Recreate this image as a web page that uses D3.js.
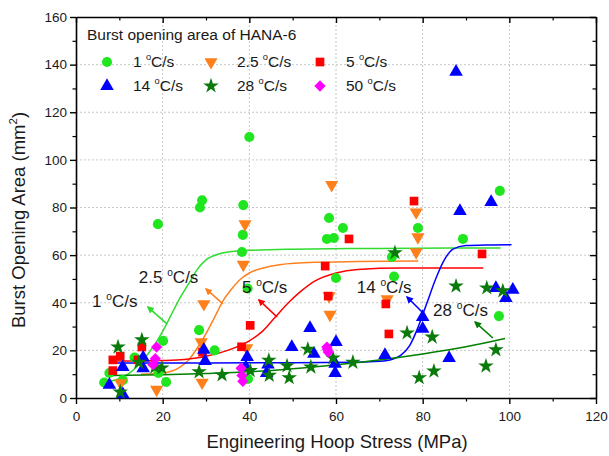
<!DOCTYPE html>
<html>
<head>
<meta charset="utf-8">
<script src="https://cdn.jsdelivr.net/npm/d3@7"></script>
<style>
body { margin: 0; background: #fff; }
text { font-family: "Liberation Sans", Arial, sans-serif; fill: #1a1a1a; }
</style>
</head>
<body>
<div id="chart"></div>
<script>
// measured points, [hoop stress (MPa), burst opening area (mm2)]
let rate1 = [[6.5,6.5],[7.7,10.5],[10.8,7.5],[13.5,17],[19,10.5],[18.9,73],[20.1,24],[20.8,6.7],
    [28.6,80],[29.1,83],[28.4,28.5],[32,20],[38.6,81],[38.5,68.5],[38.3,61.3],[40,109.6],[39.6,46],
    [39.7,8],[58.4,75.6],[57.9,66.8],[59.5,67.2],[61.6,71.4],[60,50.4],[73.4,51],[72.9,59.2],
    [78.9,71.4],[89.3,66.8],[97.8,87],[97.6,34.4]];
let rate25 = [[10.3,6.3],[18.6,3.5],[29.5,39.5],[28.9,23.5],[29.1,6.5],[39,73],[38.6,56],[39.4,21],
    [59,89.5],[58.4,42.8],[58.6,35],[71.8,41.6],[78.5,78],[78.9,67.6],[78.5,61.3]];
let rate5 = [[8.5,16],[10.2,17.6],[8.5,11.5],[15.2,21.4],[14.3,16],[29.2,19.3],[38.2,21.5],[40.2,30.5],
    [57.5,55.4],[58.2,42.8],[63,66.8],[71.5,39.5],[72.2,26.9],[78,82.7],[93.7,60.5]];
let rate14 = [[7.7,5.5],[10.8,1.5],[10.8,13],[15.5,17],[15.5,12.5],[29.5,20.2],[29.8,15.5],[39.5,17.2],
    [39.2,13],[44.3,14],[44,10.5],[49.8,21.4],[54,29.4],[54.9,18.5],[60,23.5],[59.8,14.3],[59.8,10.5],
    [71.3,18],[80,34],[80,29],[86.1,16.8],[87.7,137],[88.6,78.5],[95.8,82.3],[96.9,46.2],[99.2,42],[100.8,45.4]];
let rate28 = [[9.7,21.4],[15.2,24.4],[10.2,2.5],[14.5,15],[18.2,13],[19.8,12.6],[28.4,11],[33.7,9.7],
    [40.2,11.5],[44.5,15.8],[44.6,9.5],[48.7,13.5],[49.2,8.5],[53.5,20.5],[54.2,13],[59.3,16.8],[63.9,15],
    [73.6,61],[76.4,27.3],[79.2,8.5],[82.2,25.6],[82.6,11.3],[87.7,47],[94.8,46.2],[98.5,45],[96.9,20.2],[94.6,13.4]];
let rate50 = [[18.6,21.4],[18.3,16.5],[17.8,14],[38.1,12.5],[38.3,9.5],[38.5,7],[57.9,21.4],[58.2,19.3],[58,20.5]];

// fitted curves
let fit1 = [[8,7],[12,10],[15,15],[18,22],[20,28],[22,35],[24,42],[26,48],[28,54],[30,58],[33,60.5],
    [36,61.5],[40,62],[50,62.5],[70,62.8],[98,63]];
let fit25 = [[15,10],[20,10.5],[24,13],[26,16],[28,21],[30,27],[32,34],[34,41],[36,46],[38,50],[40,52.5],
    [43,54.5],[47,56],[55,57],[65,57.3],[79,57.5]];
let fit5 = [[8,15.5],[15,15.5],[20,15.7],[25,16.2],[30,17.5],[35,20],[40,24],[43,28],[46,34],[49,40],
    [52,45],[55,49],[60,52.5],[65,54],[75,54.6],[94,54.6]];
let fit14 = [[8,14.7],[30,14.7],[50,14.8],[65,15],[70,15.4],[73,16.3],[75,18],[77,22],[79,30],[81,40],
    [83,50],[85,58],[87,62.5],[90,64],[95,64.3],[100.5,64.4]];
let fit28 = [[8,9.5],[20,9.8],[30,10.3],[40,11],[50,12.3],[60,14],[70,16],[80,18.5],[90,21.5],[99,25]];

let rateNames = ["1", "2.5", "5", "14", "28", "50"];
let xTicks = [0, 20, 40, 60, 80, 100, 120];
let yTicks = [0, 20, 40, 60, 80, 100, 120, 140, 160];

// curve labels: name, text position, arrow tail, arrow head (data units)
let notes = [
    { name: "1", tx: 3.7, ty: 38.2, x1: 21, y1: 31.1, x2: 16.6, y2: 38.2, c: "#2fdc2f" },
    { name: "2.5", tx: 14.5, ty: 48.3, x1: 33.9, y1: 39.5, x2: 30, y2: 45.8, c: "#ff8020" },
    { name: "5", tx: 38.3, ty: 44.1, x1: 46.4, y1: 34, x2: 42.2, y2: 41.2, c: "#ff0000" },
    { name: "14", tx: 64.8, ty: 44.1, x1: 80.1, y1: 35.7, x2: 76.4, y2: 42.4, c: "#0000ff" },
    { name: "28", tx: 82.4, ty: 34.4, x1: 96.2, y1: 25.2, x2: 92.1, y2: 31.9, c: "#007f00" }
];

let w = 609;
let h = 456;
let padL = 76, padR = 596, padT = 17, padB = 398;

let svg = d3.select("#chart")
    .append("svg")
    .attr("width", w)
    .attr("height", h);

let xScale = d3.scaleLinear().domain([0, 120]).range([padL, padR]);
let yScale = d3.scaleLinear().domain([0, 160]).range([padB, padT]);

// dotted grid
svg.append("g").selectAll("line")
    .data(xTicks.slice(1, -1))
    .enter().append("line")
    .attr("x1", d => xScale(d)).attr("x2", d => xScale(d))
    .attr("y1", padT).attr("y2", padB)
    .attr("stroke", "#c8c8c8").attr("stroke-dasharray", "2,2");
svg.append("g").selectAll("line")
    .data(yTicks.slice(1, -1))
    .enter().append("line")
    .attr("y1", d => yScale(d)).attr("y2", d => yScale(d))
    .attr("x1", padL).attr("x2", padR)
    .attr("stroke", "#c8c8c8").attr("stroke-dasharray", "2,2");

// axes: major ticks with labels, minor ticks between
function drawAxis(axis, scale, ticks, minor, pos, labels) {
    let g = svg.append("g").attr("transform", pos);
    g.call(axis(scale).tickValues(minor).tickSize(3.5).tickFormat(""));
    g.select(".domain").remove();
    g.selectAll(".tick line").attr("stroke-width", 1.2);
    let g3 = svg.append("g").attr("transform", pos);
    g3.call(axis(scale).tickValues(ticks).tickSize(6).tickSizeOuter(0)
        .tickFormat(labels ? d3.format("d") : ""));
    g3.select(".domain").attr("stroke-width", 1.6);
    g3.selectAll(".tick line").attr("stroke-width", 1.4);
    g3.selectAll("text").attr("font-size", 13.5).attr("fill", "#1a1a1a")
        .style("font-family", "Liberation Sans, Arial, sans-serif");
    return g3;
}
let xMinor = d3.range(10, 120, 20);
let yMinor = d3.range(10, 160, 20);
drawAxis(d3.axisBottom, xScale, xTicks, xMinor, "translate(0," + padB + ")", true)
    .selectAll("text").attr("dy", "1.05em");
drawAxis(d3.axisLeft, yScale, yTicks, yMinor, "translate(" + padL + ",0)", true);
drawAxis(d3.axisBottom, xScale, xTicks, xMinor, "translate(0," + padT + ")", false);
drawAxis(d3.axisLeft, yScale, yTicks, yMinor, "translate(" + padR + ",0)", false);

// axis titles
svg.append("text")
    .attr("x", 337)
    .attr("y", 448)
    .attr("text-anchor", "middle")
    .attr("font-size", 18.5)
    .text("Engineering Hoop Stress (MPa)");
let yt = svg.append("text")
    .attr("transform", "translate(25," + 220 + ") rotate(-90)")
    .attr("text-anchor", "middle")
    .attr("font-size", 18.5);
yt.append("tspan").text("Burst Opening Area (mm");
yt.append("tspan").attr("font-size", 11.5).attr("dy", -8).text("2");
yt.append("tspan").attr("dy", 8).text(")");

// fitted curves
let line = d3.line()
    .x(d => xScale(d[0]))
    .y(d => yScale(d[1]))
    .curve(d3.curveMonotoneX);
let fits = [fit1, fit25, fit5, fit14, fit28];
let fitColors = ["#2fdc2f", "#ff8020", "#ff0000", "#0000ff", "#007f00"];
svg.append("g").selectAll("path")
    .data(fits)
    .enter().append("path")
    .attr("d", line)
    .attr("fill", "none")
    .attr("stroke", (d, i) => fitColors[i])
    .attr("stroke-width", 1.5);

// markers
let series = [
    { data: rate1, type: d3.symbolCircle, size: 80, rot: 0, color: "#1fe61f" },
    { data: rate25, type: d3.symbolTriangle, size: 75, rot: 180, color: "#ff7f1a" },
    { data: rate5, type: d3.symbolSquare, size: 75, rot: 0, color: "#ff0000" },
    { data: rate14, type: d3.symbolTriangle, size: 80, rot: 0, color: "#0000ff" },
    { data: rate28, type: d3.symbolStar, size: 75, rot: 0, color: "#0a7a0a" },
    { data: rate50, type: d3.symbolSquare, size: 64, rot: 45, color: "#ff00ff" }
];
series.forEach(function (s) {
    let sym = d3.symbol().type(s.type).size(s.size);
    svg.append("g").selectAll("path")
        .data(s.data)
        .enter().append("path")
        .attr("d", sym)
        .attr("transform", d => "translate(" + xScale(d[0]) + "," + yScale(d[1]) + ") rotate(" + s.rot + ")")
        .attr("fill", s.color);
});

// degree label helper
function rateLabel(sel, name, big) {
    sel.append("tspan").text(name + " ");
    sel.append("tspan").attr("font-size", big * 0.6).attr("dy", -big * 0.42).text("o");
    sel.append("tspan").attr("dy", big * 0.42).text("C/s");
}

// curve annotations with arrows
let defs = svg.append("defs");
notes.forEach(function (n, i) {
    defs.append("marker")
        .attr("id", "arr" + i)
        .attr("viewBox", "0 0 10 10")
        .attr("refX", 8).attr("refY", 5)
        .attr("markerWidth", 4.5).attr("markerHeight", 4.5)
        .attr("orient", "auto")
        .append("path")
        .attr("d", "M0,0 L10,5 L0,10 z")
        .attr("fill", n.c);
    svg.append("line")
        .attr("x1", xScale(n.x1)).attr("y1", yScale(n.y1))
        .attr("x2", xScale(n.x2)).attr("y2", yScale(n.y2))
        .attr("stroke", n.c).attr("stroke-width", 1.6)
        .attr("marker-end", "url(#arr" + i + ")");
    let t = svg.append("text")
        .attr("x", xScale(n.tx)).attr("y", yScale(n.ty))
        .attr("font-size", 17);
    rateLabel(t, n.name, 17);
});

// legend
svg.append("text")
    .attr("x", 87).attr("y", 40)
    .attr("font-size", 15.5)
    .text("Burst opening area of HANA-6");
series.forEach(function (s, i) {
    let col = i % 3, row = Math.floor(i / 3);
    let lx = [107, 211, 320][col];
    let ly = 62 + row * 24;
    svg.append("path")
        .attr("d", d3.symbol().type(s.type).size(s.size)())
        .attr("transform", "translate(" + lx + "," + ly + ") rotate(" + s.rot + ")")
        .attr("fill", s.color);
    let t = svg.append("text")
        .attr("x", lx + 26).attr("y", ly + 5)
        .attr("font-size", 15.5);
    rateLabel(t, rateNames[i], 15.5);
});
</script>
</body>
</html>
